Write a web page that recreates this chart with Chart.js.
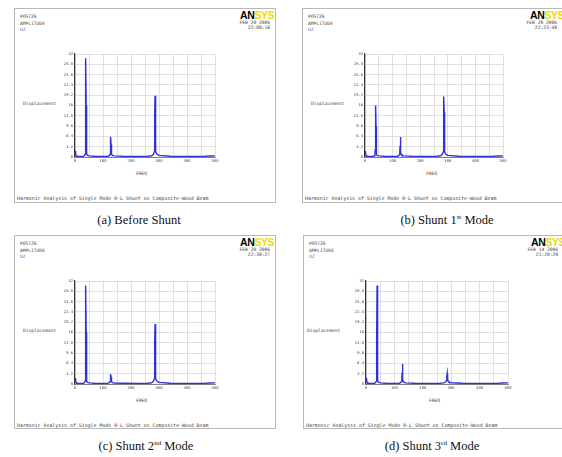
<!DOCTYPE html>
<html>
<head>
<meta charset="utf-8">
<script src="https://cdn.jsdelivr.net/npm/chart.js@4.4.0/dist/chart.umd.min.js"></script>
<style>
  html, body { margin: 0; padding: 0; background: #fff; }
  body { width: 562px; height: 457px; position: relative; overflow: hidden; }
  .panel { position: absolute; border: 1px solid #b8b8b8; background: #fff; box-sizing: border-box; }
  .panel canvas { position: absolute; }
  .t { position: absolute; font-family: 'DejaVu Sans Mono', monospace; font-size: 4.6px; line-height: 5px; color: #444; white-space: nowrap; }
  .note { font-size: 4.9px; }
  .uz { color: #5a5ad0; }
  .logo { position: absolute; font-family: 'Liberation Sans', Arial, sans-serif; font-weight: bold; font-size: 10.5px; letter-spacing: -0.4px; line-height: 10px; color: #000; white-space: nowrap; }
  .logo span { color: #f2d600; }
  .date { text-align: right; }
  .cap { position: absolute; font-family: 'Liberation Serif', 'Times New Roman', serif; font-size: 12.5px; color: #111; white-space: nowrap; transform: translateX(-50%); }
  .cap sup { font-size: 7px; }
</style>
</head>
<body>

<div class="panel" style="left:14px;top:8px;width:262px;height:195px">
  <div class="t" style="left:5px;top:5px">POST26</div>
  <div class="t" style="left:5px;top:12px">AMPLITUDE</div>
  <div class="t uz" style="left:5px;top:18px">UZ</div>
  <div class="logo" style="left:225px;top:1px">AN<span>SYS</span></div>
  <div class="t date" style="right:5px;top:11px">FEB 20 2006<br>22:08:18</div>
  <div class="t" style="left:8px;top:92px">Displacement</div>
  <div class="t" style="left:121px;top:162px">FREQ</div>
  <div class="t note" style="left:2px;top:187px">Harmonic Analysis of Single Mode R-L Shunt on Composite-Wood Beam</div>
  <canvas id="chartA" width="180" height="125" style="left:30px;top:40px"></canvas>
</div>

<div class="panel" style="left:302px;top:8px;width:262px;height:195px">
  <div class="t" style="left:5px;top:5px">POST26</div>
  <div class="t" style="left:5px;top:12px">AMPLITUDE</div>
  <div class="t uz" style="left:5px;top:18px">UZ</div>
  <div class="logo" style="left:227px;top:1px">AN<span>SYS</span></div>
  <div class="t date" style="right:6px;top:11px">FEB 20 2006<br>22:23:48</div>
  <div class="t" style="left:8px;top:92px">Displacement</div>
  <div class="t" style="left:123px;top:162px">FREQ</div>
  <div class="t note" style="left:2px;top:187px">Harmonic Analysis of Single Mode R-L Shunt on Composite-Wood Beam</div>
  <canvas id="chartB" width="180" height="125" style="left:30px;top:40px"></canvas>
</div>

<div class="panel" style="left:14px;top:235px;width:262px;height:194px">
  <div class="t" style="left:5px;top:5px">POST26</div>
  <div class="t" style="left:5px;top:12px">AMPLITUDE</div>
  <div class="t uz" style="left:5px;top:18px">UZ</div>
  <div class="logo" style="left:225px;top:1px">AN<span>SYS</span></div>
  <div class="t date" style="right:5px;top:11px">FEB 20 2006<br>22:38:27</div>
  <div class="t" style="left:8px;top:92px">Displacement</div>
  <div class="t" style="left:121px;top:162px">FREQ</div>
  <div class="t note" style="left:2px;top:187px">Harmonic Analysis of Single Mode R-L Shunt on Composite-Wood Beam</div>
  <canvas id="chartC" width="180" height="125" style="left:30px;top:40px"></canvas>
</div>

<div class="panel" style="left:303px;top:235px;width:262px;height:194px">
  <div class="t" style="left:5px;top:5px">POST26</div>
  <div class="t" style="left:5px;top:12px">AMPLITUDE</div>
  <div class="t uz" style="left:5px;top:18px">UZ</div>
  <div class="logo" style="left:227px;top:1px">AN<span>SYS</span></div>
  <div class="t date" style="right:6px;top:11px">FEB 14 2006<br>21:20:29</div>
  <div class="t" style="left:3px;top:92px">Displacement</div>
  <div class="t" style="left:125px;top:162px">FREQ</div>
  <div class="t note" style="left:2px;top:187px">Harmonic Analysis of Single Mode R-L Shunt on Composite-Wood Beam</div>
  <canvas id="chartD" width="180" height="125" style="left:30px;top:40px"></canvas>
</div>

<div class="cap" style="left:139px;top:213px">(a) Before Shunt</div>
<div class="cap" style="left:447px;top:213px">(b) Shunt 1<sup>st</sup> Mode</div>
<div class="cap" style="left:146px;top:439px">(c) Shunt 2<sup>nd</sup> Mode</div>
<div class="cap" style="left:432px;top:439px">(d) Shunt 3<sup>rd</sup> Mode</div>

<script>
// frequency points (Hz) shared by all four responses
const freq = [
  0, 2, 4, 6, 8, 12, 20, 30, 34, 36, 37, 38, 39, 40, 41, 42, 44, 50, 70, 100,
  117, 122, 125, 126, 127, 128, 129, 130, 131, 134, 140, 170, 220, 260,
  274, 280, 283, 284, 285, 286, 287, 288, 289, 292, 300, 340, 400, 460, 480, 500
];

// displacement amplitude
const dispBefore = [
  1.9, 1.2, 0.6, 0.35, 0.25, 0.2, 0.2, 0.25, 0.45, 0.9, 2.8, 15.0, 30.7, 16.0, 3.0, 1.0, 0.55, 0.35, 0.25, 0.2,
  0.25, 0.4, 0.8, 1.3, 3.5, 6.3, 3.8, 1.4, 0.9, 0.5, 0.35, 0.25, 0.2, 0.25,
  0.4, 0.8, 1.6, 2.6, 13.5, 19.0, 14.0, 2.7, 1.7, 0.9, 0.5, 0.25, 0.2, 0.2, 0.3, 0.35
];
const dispShunt1 = [
  1.9, 1.2, 0.6, 0.35, 0.25, 0.2, 0.2, 0.25, 0.4, 0.8, 2.2, 9.0, 16.0, 9.5, 2.4, 0.9, 0.5, 0.35, 0.25, 0.2,
  0.25, 0.4, 0.8, 1.3, 3.5, 6.2, 3.8, 1.4, 0.9, 0.5, 0.35, 0.25, 0.2, 0.25,
  0.4, 0.8, 1.6, 2.6, 13.0, 18.8, 13.8, 2.7, 1.7, 0.9, 0.5, 0.25, 0.2, 0.2, 0.3, 0.35
];
const dispShunt2 = [
  1.9, 1.2, 0.6, 0.35, 0.25, 0.2, 0.2, 0.25, 0.45, 0.9, 2.8, 15.0, 30.6, 16.0, 3.0, 1.0, 0.55, 0.35, 0.25, 0.2,
  0.25, 0.4, 0.7, 1.0, 2.0, 3.1, 2.1, 1.0, 0.7, 0.45, 0.3, 0.25, 0.2, 0.25,
  0.4, 0.8, 1.6, 2.6, 13.2, 18.6, 13.8, 2.7, 1.7, 0.9, 0.5, 0.25, 0.2, 0.2, 0.3, 0.35
];
const dispShunt3 = [
  1.9, 1.2, 0.6, 0.35, 0.25, 0.2, 0.2, 0.25, 0.45, 0.9, 2.8, 15.0, 30.6, 16.0, 3.0, 1.0, 0.55, 0.35, 0.25, 0.2,
  0.25, 0.4, 0.8, 1.3, 3.5, 6.2, 3.8, 1.4, 0.9, 0.5, 0.35, 0.25, 0.2, 0.25,
  0.35, 0.6, 1.0, 1.4, 2.3, 3.3, 2.4, 1.4, 1.0, 0.6, 0.4, 0.25, 0.2, 0.2, 0.3, 0.35
];

// axis ticks; FREQ labels alternate between two rows
const xTicks = [0, 50, 100, 150, 200, 250, 300, 350, 400, 450, 500];
const xTickLabels = ['0', '50', '100', '150', '200', '250', '300', '350', '400', '450', '500'];
const yTicks = [0, 3.2, 6.4, 9.6, 12.8, 16, 19.2, 22.4, 25.6, 28.8, 32];
const yTickLabels = ['0', '3.2', '6.4', '9.6', '12.8', '16', '19.2', '22.4', '25.6', '28.8', '32'];

const tickFont = { family: 'DejaVu Sans Mono', size: 3.8 };
const gridStyle = { color: '#d2d2d2', lineWidth: 0.7, drawTicks: false };

function freqAxis(row, height, withGrid) {
    return {
        type: 'linear',
        position: 'bottom',
        min: 0,
        max: 500,
        afterBuildTicks: scale => { scale.ticks = xTicks.map(v => ({ value: v })); },
        afterFit: scale => { scale.height = height; },
        ticks: {
            font: tickFont,
            color: '#444',
            padding: 2,
            maxRotation: 0,
            autoSkip: false,
            callback: (v, i) => i % 2 === row ? xTickLabels[i] : ''
        },
        grid: withGrid ? gridStyle : { display: false },
        border: withGrid ? { color: '#808080', width: 1 } : { display: false }
    };
}

// plotLeft / plotRight are in canvas pixels
function buildChart(canvasId, values, plotLeft, plotRight) {
    const canvas = document.getElementById(canvasId);
    const points = freq.map((f, i) => ({ x: f, y: values[i] }));
    return new Chart(canvas.getContext('2d'), {
        type: 'line',
        data: {
            datasets: [{
                data: points,
                xAxisID: 'x',
                borderColor: 'rgba(32, 32, 215, 0.92)',
                borderWidth: 1.4,
                pointRadius: 0,
                tension: 0,
                fill: false
            }]
        },
        options: {
            responsive: false,
            animation: false,
            plugins: {
                legend: { display: false },
                tooltip: { enabled: false }
            },
            layout: { padding: { top: 5, right: canvas.width - plotRight, left: 0, bottom: 0 } },
            scales: {
                x: freqAxis(0, 9, true),
                x2: freqAxis(1, 8, false),
                y: {
                    min: 0,
                    max: 32,
                    afterBuildTicks: scale => { scale.ticks = yTicks.map(v => ({ value: v })); },
                    afterFit: scale => { scale.width = plotLeft; },
                    ticks: {
                        font: tickFont,
                        color: '#444',
                        padding: 2,
                        autoSkip: false,
                        callback: (v, i) => yTickLabels[i]
                    },
                    grid: gridStyle,
                    border: { color: '#333', width: 1.2 }
                }
            }
        }
    });
}

buildChart('chartA', dispBefore, 30, 170);
buildChart('chartB', dispShunt1, 32, 170);
buildChart('chartC', dispShunt2, 30, 170);
buildChart('chartD', dispShunt3, 32, 174);
</script>
</body>
</html>
